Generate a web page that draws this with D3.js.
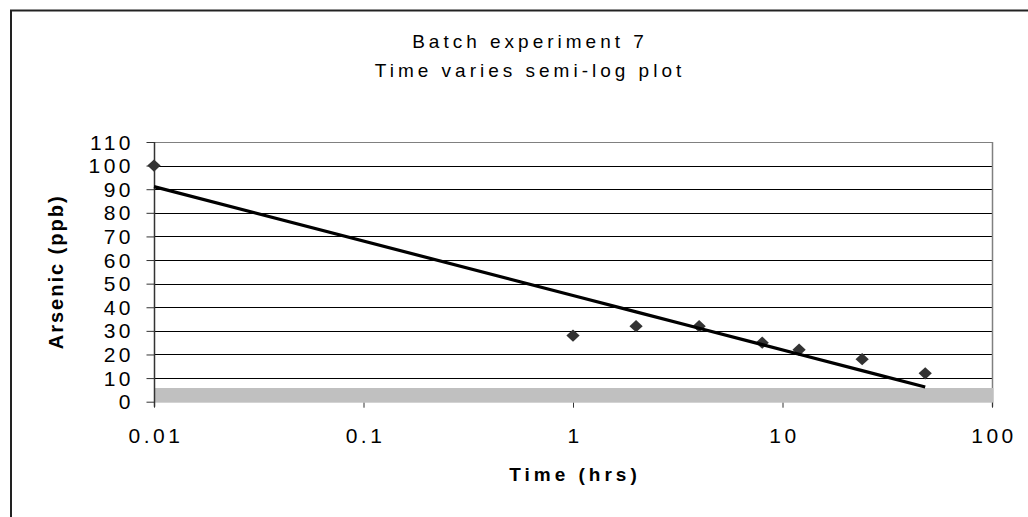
<!DOCTYPE html>
<html><head><meta charset="utf-8">
<script src="https://cdn.jsdelivr.net/npm/d3@7"></script>
<style>body{margin:0;background:#fff} svg{display:block}</style>
</head><body>
<script>
// ---- data ----
const timeHrs = [0.01, 1, 2, 4, 8, 12, 24, 48];
const arsenicPpb = [100, 28, 32, 32, 25, 22, 18, 12];
const xTickValues = [0.01, 0.1, 1, 10, 100];
const xTickLabels = ["0.01", "0.1", "1", "10", "100"];
const yTickValues = [0, 10, 20, 30, 40, 50, 60, 70, 80, 90, 100, 110];
const titleLines = ["Batch experiment 7", "Time varies semi-log plot"];
const xTitle = "Time (hrs)";
const yTitle = "Arsenic (ppb)";
const bandValues = [0, 5.8];

// ---- layout ----
const W = 1028, H = 517;
const pLeft = 154, pRight = 992, pTop = 142, pBottom = 401.7;
const FONT = "'Liberation Sans', Arial, sans-serif";

const svg = d3.select("body").append("svg").attr("width", W).attr("height", H);

// outer chart border
svg.append("rect").attr("x", 11).attr("y", 10.5).attr("width", 1040).attr("height", 540)
  .attr("fill", "#fff").attr("stroke", "#222").attr("stroke-width", 2);

const x = d3.scaleLog().domain([xTickValues[0], xTickValues[xTickValues.length - 1]]).range([pLeft, pRight]);
const y = d3.scaleLinear().domain([0, yTickValues[yTickValues.length - 1]]).range([pBottom, pTop]);

// gridlines
const yMax = yTickValues[yTickValues.length - 1];
svg.append("g").selectAll("line").data(yTickValues.filter(v => v > 0)).join("line")
  .attr("x1", pLeft).attr("x2", pRight)
  .attr("y1", d => Math.round(y(d)) + 0.5).attr("y2", d => Math.round(y(d)) + 0.5)
  .attr("stroke", d => d === yMax ? "#808080" : "#000").attr("stroke-width", 1);

// right plot border
svg.append("line").attr("x1", pRight + 0.5).attr("x2", pRight + 0.5)
  .attr("y1", y(yMax)).attr("y2", y(0) + 5)
  .attr("stroke", "#808080").attr("stroke-width", 1.5);

// gray band
svg.append("rect").attr("x", pLeft).attr("width", pRight - pLeft + 1.5)
  .attr("y", y(bandValues[1])).attr("height", y(bandValues[0]) - y(bandValues[1]) + 1)
  .attr("fill", "#c0c0c0");

// y axis
const yAxis = d3.axisLeft(y).tickValues(yTickValues).tickSize(8).tickFormat("");
const gy = svg.append("g").attr("transform", `translate(${pLeft + 0.5},0)`).call(yAxis);
gy.select(".domain").attr("stroke", "#333").attr("stroke-width", 1.5)
  .attr("d", `M0,${y(yMax)}V${y(0) + 5}`);
gy.selectAll(".tick line").attr("stroke", "#333").attr("stroke-width", 1);

// y tick labels
svg.append("g").selectAll("text").data(yTickValues).join("text")
  .attr("x", 134).attr("y", d => y(d)).attr("dy", "0.36em")
  .attr("text-anchor", "end")
  .style("font-family", FONT).style("font-size", "21px").style("letter-spacing", "3.5px")
  .attr("fill", "#000").text(d => String(d));

// x axis ticks
const xAxis = d3.axisBottom(x).tickValues(xTickValues).tickSize(5).tickFormat("");
const gx = svg.append("g").attr("transform", `translate(0,${y(0) + 1})`).call(xAxis);
gx.select(".domain").remove();
gx.selectAll(".tick line").attr("stroke", "#333").attr("stroke-width", 1);

// x tick labels
svg.append("g").selectAll("text").data(xTickValues).join("text")
  .attr("x", d => x(d) + 2).attr("y", 443)
  .attr("text-anchor", "middle")
  .style("font-family", FONT).style("font-size", "21px").style("letter-spacing", "3.5px")
  .attr("fill", "#000").text((d, i) => xTickLabels[i]);

// markers (diamonds)
const square = d3.symbol().type(d3.symbolSquare).size(88);
svg.append("g").selectAll("path").data(timeHrs.map((t, i) => [t, arsenicPpb[i]])).join("path")
  .attr("transform", d => `translate(${x(d[0])},${y(d[1])}) scale(1,0.93) rotate(45)`)
  .attr("d", square).attr("fill", "#333");

// logarithmic trendline (least squares y = a + b ln x)
const lx = timeHrs.map(Math.log);
const mx = d3.mean(lx), my = d3.mean(arsenicPpb);
const b = d3.sum(lx, (v, i) => (v - mx) * (arsenicPpb[i] - my)) / d3.sum(lx, v => (v - mx) ** 2);
const a = my - b * mx;
const trend = timeHrs.map(t => [t, a + b * Math.log(t)]);
svg.append("path").datum(trend)
  .attr("d", d3.line().x(d => x(d[0])).y(d => y(d[1])))
  .attr("fill", "none").attr("stroke", "#000").attr("stroke-width", 3.2);

// titles
svg.append("g").selectAll("text").data(titleLines).join("text")
  .attr("x", 530).attr("y", (d, i) => 48 + i * 29)
  .attr("text-anchor", "middle")
  .style("font-family", FONT).style("font-size", "19px").style("letter-spacing", "4px")
  .attr("fill", "#000").text(d => d);

svg.append("text").attr("x", 575).attr("y", 481).attr("text-anchor", "middle")
  .style("font-family", FONT).style("font-size", "19px").style("font-weight", "bold")
  .style("letter-spacing", "4px").attr("fill", "#000").text(xTitle);

svg.append("text").attr("transform", `translate(63,${(pTop + pBottom) / 2}) rotate(-90)`)
  .attr("text-anchor", "middle")
  .style("font-family", FONT).style("font-size", "20px").style("font-weight", "bold")
  .style("letter-spacing", "2px").attr("fill", "#000").text(yTitle);
</script>
</body></html>
